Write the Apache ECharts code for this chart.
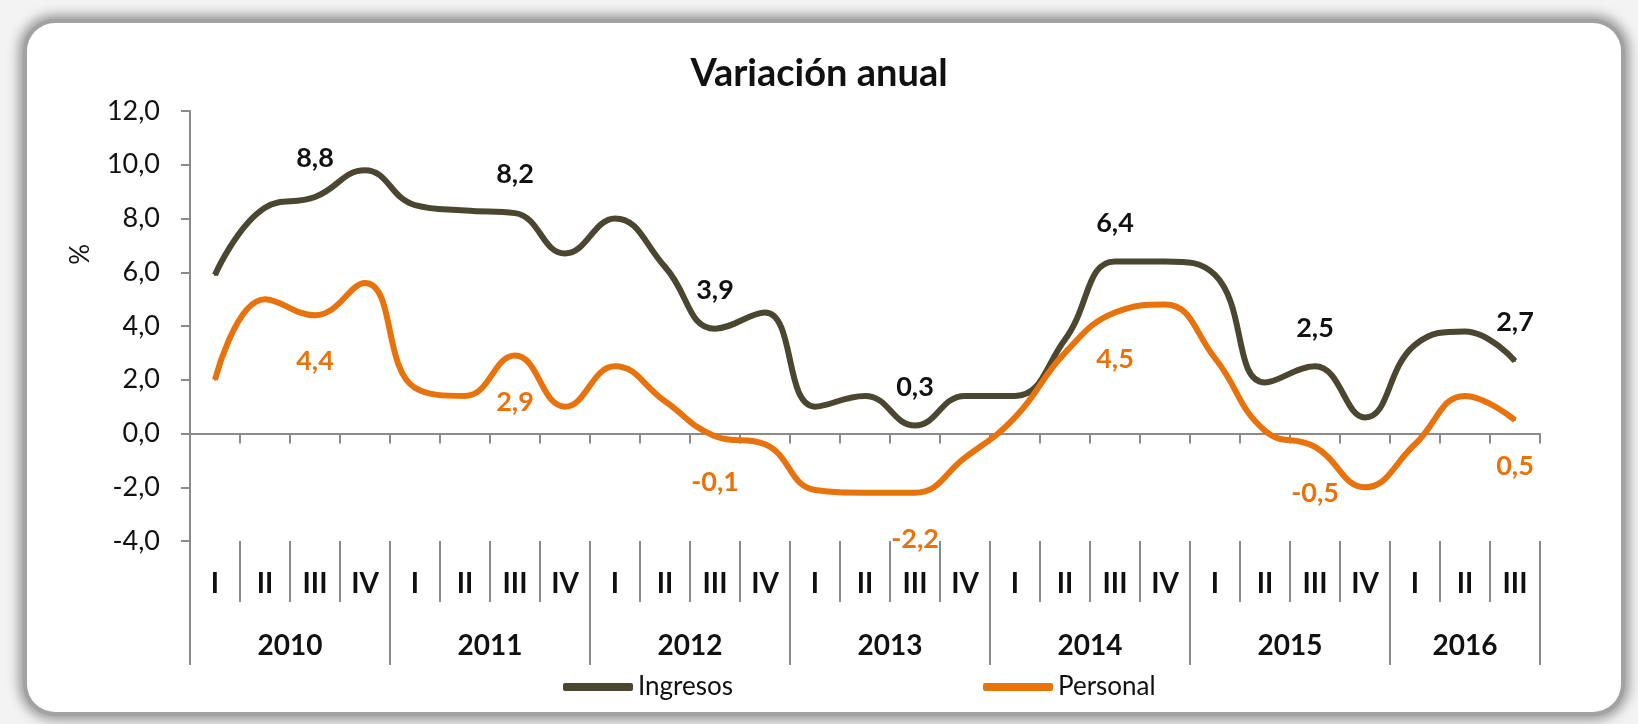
<!DOCTYPE html>
<html>
<head>
<meta charset="utf-8">
<script src="https://cdn.jsdelivr.net/npm/echarts@6/dist/echarts.min.js"></script>
<style>
  html, body { margin: 0; padding: 0; background: #f3f3f3; }
  #frame {
    position: absolute; left: 27px; top: 23px; width: 1594px; height: 689px;
    background: #fff; border-radius: 28px;
    box-shadow: 0 0 0 4px #a2a2a2, 0 0 12px 8px #959595;
  }
  #chart { position: absolute; left: 0; top: 0; width: 1638px; height: 724px; }
</style>
</head>
<body>
<div id="frame"></div>
<div id="chart"></div>
<script>
const quarters = ["I","II","III","IV","I","II","III","IV","I","II","III","IV","I","II","III","IV","I","II","III","IV","I","II","III","IV","I","II","III"];
const years = ["2010","2011","2012","2013","2014","2015","2016"];
const yearTicks = [0, 4, 8, 12, 16, 20, 24, 27];
const yearCenters = [2, 6, 10, 14, 18, 22, 25.5];

const ingresos = [5.9, 8.4, 8.8, 9.8, 8.5, 8.3, 8.2, 6.7, 8.0, 6.2, 3.9, 4.5, 1.0, 1.4, 0.3, 1.4, 1.4, 3.5, 6.4, 6.4, 5.9, 1.9, 2.5, 0.6, 3.3, 3.8, 2.7];
const personal = [2.0, 5.0, 4.4, 5.6, 1.7, 1.4, 2.9, 1.0, 2.5, 1.2, -0.1, -0.4, -2.1, -2.2, -2.2, -0.9, 0.6, 3.0, 4.5, 4.8, 2.8, 0.1, -0.5, -2.0, -0.4, 1.4, 0.5];
// labelled points: third quarter of each year
const labelIdx = [2, 6, 10, 14, 18, 22, 26];

const FONT = "Lato";
const cGris = "#4b4630";
const cNaranja = "#e8720c";

const fmt = v => v.toFixed(1).replace(".", ",");

function withLabels(arr) {
  return arr.map((v, i) => labelIdx.includes(i) ? { value: v, label: { show: true } } : v);
}

const chart = echarts.init(document.getElementById("chart"));
chart.setOption({
  animation: false,
  textStyle: { fontFamily: FONT },
  title: {
    text: "Variación anual",
    left: "center",
    top: 50,
    textStyle: { fontFamily: FONT, fontSize: 38, fontWeight: "bold", color: "#111" }
  },
  legend: {
    left: 558,
    top: 669,
    itemGap: 250,
    itemWidth: 70,
    itemHeight: 8,
    icon: "roundRect",
    textStyle: { fontFamily: FONT, fontSize: 26, color: "#111" },
    data: ["Ingresos", "Personal"]
  },
  graphic: [{
    type: "text",
    left: 68,
    top: 244,
    rotation: Math.PI / 2,
    style: { text: "%", font: "26px Lato", fill: "#111" }
  }],
  grid: { left: 190, right: 98, top: 111, bottom: 183 },
  xAxis: [
    {
      type: "category",
      data: quarters,
      position: "bottom",
      axisLine: { onZero: true, lineStyle: { color: "#8a8a8a", width: 2 } },
      axisTick: { show: true, interval: 0, length: 10, lineStyle: { color: "#8a8a8a", width: 2 } },
      axisLabel: { show: false }
    },
    {
      type: "category",
      data: quarters,
      position: "bottom",
      axisLine: { show: false, onZero: false },
      axisTick: { show: true, interval: 0, length: 61, lineStyle: { color: "#8a8a8a", width: 2 } },
      axisLabel: {
        interval: 0, margin: 29,
        fontFamily: FONT, fontSize: 28, fontWeight: "bold", color: "#111"
      }
    },
    {
      type: "value",
      min: 0,
      max: 27,
      position: "bottom",
      axisLine: { show: false, onZero: false },
      splitLine: { show: false },
      axisTick: { show: true, customValues: yearTicks, length: 124, lineStyle: { color: "#8a8a8a", width: 2 } },
      axisLabel: {
        customValues: yearCenters,
        margin: 91,
        fontFamily: FONT, fontSize: 28, fontWeight: "bold", color: "#111",
        formatter: v => years[yearCenters.indexOf(v)] || ""
      }
    }
  ],
  yAxis: {
    type: "value",
    min: -4,
    max: 12,
    interval: 2,
    axisLine: { show: true, lineStyle: { color: "#8a8a8a", width: 2 } },
    axisTick: { show: true, length: 9, lineStyle: { color: "#8a8a8a", width: 2 } },
    splitLine: { show: false },
    axisLabel: { margin: 30, fontFamily: FONT, fontSize: 27, color: "#111", formatter: fmt }
  },
  series: [
    {
      name: "Ingresos",
      type: "line",
      data: withLabels(ingresos),
      smooth: 0.45,
      symbol: "circle",
      symbolSize: 2,
      showSymbol: true,
      itemStyle: { color: cGris },
      lineStyle: { color: cGris, width: 6 },
      label: {
        show: false, position: "top", distance: 24,
        fontFamily: FONT, fontSize: 27, fontWeight: "bold", color: "#111",
        formatter: p => fmt(p.value)
      },
      emphasis: { disabled: true }
    },
    {
      name: "Personal",
      type: "line",
      data: withLabels(personal),
      smooth: 0.45,
      symbol: "circle",
      symbolSize: 2,
      showSymbol: true,
      itemStyle: { color: cNaranja },
      lineStyle: { color: cNaranja, width: 6 },
      label: {
        show: false, position: "bottom", distance: 32,
        fontFamily: FONT, fontSize: 27, fontWeight: "bold", color: cNaranja,
        formatter: p => fmt(p.value)
      },
      emphasis: { disabled: true }
    }
  ]
});
</script>
</body>
</html>
